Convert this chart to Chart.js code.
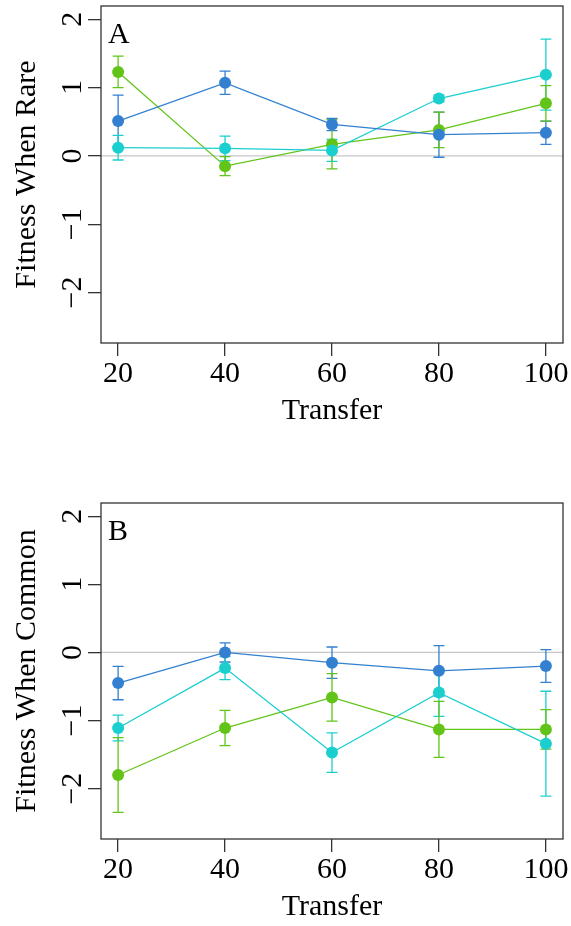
<!DOCTYPE html>
<html>
<head>
<meta charset="utf-8">
<script src="https://cdn.jsdelivr.net/npm/chart.js@4.4.1/dist/chart.umd.min.js"></script>
<style>
  body { margin: 0; background: #fff; }
  canvas { display: block; }
</style>
</head>
<body>
<canvas id="rareChart" width="571" height="463"></canvas>
<canvas id="commonChart" width="571" height="463"></canvas>
<script>
var transfers = [20, 40, 60, 80, 100];
var yTicks = [-2, -1, 0, 1, 2];

// panel A - fitness when rare (means and half-widths of the error bars)
var rareBlue = [0.51, 1.07, 0.46, 0.31, 0.34];
var rareBlueErr = [0.38, 0.17, 0.09, 0.33, 0.17];
var rareCyan = [0.12, 0.11, 0.08, 0.84, 1.19];
var rareCyanErr = [0.18, 0.18, 0.16, 0.05, 0.52];
var rareGreen = [1.23, -0.15, 0.17, 0.38, 0.77];
var rareGreenErr = [0.23, 0.14, 0.36, 0.26, 0.26];

// panel B - fitness when common
var commonBlue = [-0.45, 0.0, -0.15, -0.27, -0.2];
var commonBlueErr = [0.245, 0.14, 0.23, 0.37, 0.24];
var commonCyan = [-1.11, -0.23, -1.47, -0.59, -1.34];
var commonCyanErr = [0.19, 0.17, 0.29, 0.35, 0.77];
var commonGreen = [-1.80, -1.11, -0.66, -1.13, -1.13];
var commonGreenErr = [0.55, 0.26, 0.35, 0.41, 0.29];

var blue = "#3380d0";
var cyan = "#1ccfcf";
var green = "#62c418";
var serif = "'Liberation Serif', 'DejaVu Serif', serif";

function makeDataset(color, values, errors) {
  return {
    data: values.map(function(v, i) { return {x: transfers[i], y: v}; }),
    errors: errors,
    borderColor: color,
    backgroundColor: color,
    borderWidth: 1.3,
    pointRadius: 6,
    pointBorderWidth: 0,
    pointBackgroundColor: color,
    showLine: true,
    tension: 0
  };
}

// zero line, error bars, box, rotated y labels and the panel letter
var panelExtras = {
  id: "panelExtras",
  beforeDatasetsDraw: function(chart) {
    var ctx = chart.ctx, a = chart.chartArea;
    var xs = chart.scales.x, ys = chart.scales.y;
    ctx.save();
    ctx.strokeStyle = "#c8c8c8";
    ctx.lineWidth = 1.3;
    var y0 = ys.getPixelForValue(0);
    ctx.beginPath();
    ctx.moveTo(a.left, y0);
    ctx.lineTo(a.right, y0);
    ctx.stroke();

    chart.data.datasets.forEach(function(ds) {
      ctx.strokeStyle = ds.borderColor;
      ctx.lineWidth = 1.3;
      ds.data.forEach(function(p, i) {
        var px = xs.getPixelForValue(p.x);
        var lo = ys.getPixelForValue(p.y - ds.errors[i]);
        var hi = ys.getPixelForValue(p.y + ds.errors[i]);
        ctx.beginPath();
        ctx.moveTo(px, lo); ctx.lineTo(px, hi);
        ctx.moveTo(px - 5.5, lo); ctx.lineTo(px + 5.5, lo);
        ctx.moveTo(px - 5.5, hi); ctx.lineTo(px + 5.5, hi);
        ctx.stroke();
      });
    });
    ctx.restore();
  },
  afterDraw: function(chart) {
    var ctx = chart.ctx, a = chart.chartArea, ys = chart.scales.y;
    ctx.save();
    ctx.strokeStyle = "#333";
    ctx.lineWidth = 1.3;
    ctx.strokeRect(a.left, a.top, a.right - a.left, a.bottom - a.top);

    ctx.fillStyle = "#000";
    ctx.font = "30px " + serif;
    ctx.textAlign = "center";
    ctx.textBaseline = "middle";
    ys.ticks.forEach(function(t) {
      var label = t.value < 0 ? "\u2212" + Math.abs(t.value) : String(t.value);
      ctx.save();
      ctx.translate(73, ys.getPixelForValue(t.value));
      ctx.rotate(-Math.PI / 2);
      ctx.fillText(label, 0, 0);
      ctx.restore();
    });

    ctx.textAlign = "left";
    ctx.textBaseline = "alphabetic";
    ctx.fillText(chart.options.plugins.panelExtras.letter, a.left + 7, a.top + 37);
    ctx.restore();
  }
};

function panelChart(id, letter, yTitle, sets, padTop, xAxisHeight, titlePad) {
  var ctx = document.getElementById(id).getContext("2d");
  return new Chart(ctx, {
    type: "scatter",
    data: { datasets: sets },
    plugins: [panelExtras],
    options: {
      responsive: false,
      animation: false,
      layout: { padding: { top: padTop, right: 8, left: 0, bottom: 0 } },
      plugins: {
        legend: { display: false },
        tooltip: { enabled: false },
        panelExtras: { letter: letter }
      },
      scales: {
        x: {
          type: "linear",
          min: 16.8,
          max: 103.2,
          afterBuildTicks: function(s) { s.ticks = transfers.map(function(v) { return {value: v}; }); },
          afterFit: function(s) { s.height = xAxisHeight; },
          grid: { drawOnChartArea: false, drawTicks: true, tickLength: 13, color: "#333", lineWidth: 1.3 },
          border: { display: false },
          ticks: { color: "#000", padding: 0, maxRotation: 0, autoSkip: false,
                   font: { family: serif, size: 30, lineHeight: 1.2 } },
          title: { display: true, text: "Transfer", color: "#000",
                   font: { family: serif, size: 30, lineHeight: 1.2 },
                   padding: { top: 0, bottom: titlePad } }
        },
        y: {
          type: "linear",
          min: -2.74,
          max: 2.195,
          afterBuildTicks: function(s) { s.ticks = yTicks.map(function(v) { return {value: v}; }); },
          afterFit: function(s) { s.width = 101; },
          grid: { drawOnChartArea: false, drawTicks: true, tickLength: 13, color: "#333", lineWidth: 1.3 },
          border: { display: false },
          ticks: { display: false },
          title: { display: true, text: yTitle, color: "#000",
                   font: { family: serif, size: 30, lineHeight: 1.2 },
                   padding: { top: 9, bottom: 0 } }
        }
      }
    }
  });
}

panelChart("rareChart", "A", "Fitness When Rare", [
  makeDataset(blue, rareBlue, rareBlueErr),
  makeDataset(cyan, rareCyan, rareCyanErr),
  makeDataset(green, rareGreen, rareGreenErr)
], 6, 120, 34);

panelChart("commonChart", "B", "Fitness When Common", [
  makeDataset(blue, commonBlue, commonBlueErr),
  makeDataset(cyan, commonCyan, commonCyanErr),
  makeDataset(green, commonGreen, commonGreenErr)
], 40, 87, 1);
</script>
</body>
</html>
